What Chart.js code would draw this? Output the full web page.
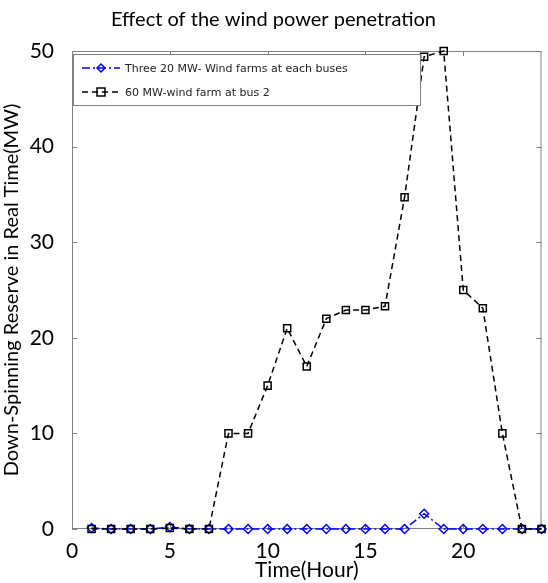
<!DOCTYPE html>
<html>
<head>
<meta charset="utf-8">
<script src="https://cdn.jsdelivr.net/npm/chart.js@4.4.0/dist/chart.umd.min.js"></script>
<style>
  body { margin: 0; background: #fff; }
  #box { width: 548px; height: 583px; }
</style>
</head>
<body>
<div id="box"><canvas id="myChart"></canvas></div>
<script>
// dados
const horas = [1,2,3,4,5,6,7,8,9,10,11,12,13,14,15,16,17,18,19,20,21,22,23,24];
const tresParques = [0.1,0,0,0,0.2,0,0,0,0,0,0,0,0,0,0,0,0,1.6,0,0,0,0,0,0];
const parque60 = [0,0,0,0,0.1,0,0,10,10,15,21,17,22,22.9,22.9,23.3,34.7,49.4,50,25,23.1,10,0,0];
const ticksX = [0,5,10,15,20];
const ticksY = [0,10,20,30,40,50];

const ctx = document.querySelector("#myChart");

// caixa do gráfico, ticks para dentro e legenda dentro da área
const moldura = {
  id: 'moldura',
  beforeDatasetsDraw(chart) {
    const c = chart.ctx, a = chart.chartArea;
    const sx = chart.scales.x, sy = chart.scales.y;
    c.save();
    c.strokeStyle = '#808080';
    c.lineWidth = 1;
    c.strokeRect(a.left + 0.5, a.top + 0.5, a.right - a.left - 1, a.bottom - a.top - 1);
    c.beginPath();
    ticksX.forEach(v => {
      const x = Math.round(sx.getPixelForValue(v)) + 0.5;
      c.moveTo(x, a.bottom); c.lineTo(x, a.bottom - 5);
      c.moveTo(x, a.top); c.lineTo(x, a.top + 5);
    });
    ticksY.forEach(v => {
      const y = Math.round(sy.getPixelForValue(v)) + 0.5;
      c.moveTo(a.left, y); c.lineTo(a.left + 5, y);
      c.moveTo(a.right, y); c.lineTo(a.right - 5, y);
    });
    c.stroke();
    c.restore();
  },
  afterDraw(chart) {
    const c = chart.ctx, a = chart.chartArea;
    const x0 = a.left + 1, y0 = a.top + 3, w = 347, h = 51;
    c.save();
    c.fillStyle = '#fff';
    c.fillRect(x0, y0, w, h);
    c.strokeStyle = '#808080';
    c.lineWidth = 1;
    c.strokeRect(x0 + 0.5, y0 + 0.5, w, h);
    c.font = '11px "DejaVu Sans"';
    c.textBaseline = 'middle';
    chart.data.datasets.forEach((ds, i) => {
      const y = y0 + 14 + i * 24;
      c.strokeStyle = ds.borderColor;
      c.lineWidth = ds.borderWidth;
      c.setLineDash(ds.borderDash);
      c.beginPath(); c.moveTo(x0 + 9, y); c.lineTo(x0 + 47, y); c.stroke();
      c.setLineDash([]);
      c.lineWidth = 1.5;
      c.beginPath();
      const mx = x0 + 28;
      if (ds.pointStyle === 'rectRot') {
        c.moveTo(mx, y - 4); c.lineTo(mx + 4, y); c.lineTo(mx, y + 4); c.lineTo(mx - 4, y); c.closePath();
      } else {
        c.rect(mx - 4, y - 4, 8, 8);
      }
      c.stroke();
      c.fillStyle = '#222';
      c.fillText(ds.label, x0 + 52, y + 1);
    });
    c.restore();
  }
};

new Chart(ctx, {
  type: 'line',
  data: {
    labels: horas,
    datasets: [{
      label: 'Three 20 MW- Wind farms at each buses',
      data: tresParques,
      borderColor: '#0000ff',
      backgroundColor: 'transparent',
      borderWidth: 1.5,
      borderDash: [8, 3, 2, 3],
      pointStyle: 'rectRot',
      pointRadius: 4.5,
      pointBorderWidth: 1.5,
      pointBorderColor: '#0000ff',
      pointBackgroundColor: 'transparent',
      order: 2
    }, {
      label: '60 MW-wind farm at bus 2',
      data: parque60,
      borderColor: '#000000',
      backgroundColor: 'transparent',
      borderWidth: 1.5,
      borderDash: [6, 4],
      pointStyle: 'rect',
      pointRadius: 5,
      pointBorderWidth: 1.5,
      pointBorderColor: '#000000',
      pointBackgroundColor: 'transparent',
      order: 1
    }]
  },
  options: {
    responsive: true,
    maintainAspectRatio: false,
    animation: false,
    clip: false,
    layout: { padding: { left: 0, right: 1, top: 0, bottom: 0 } },
    parsing: { xAxisKey: undefined },
    plugins: {
      legend: { display: false },
      tooltip: { enabled: false },
      title: {
        display: true,
        text: 'Effect of the wind power penetration',
        color: '#000',
        font: { family: 'Lato', size: 20, weight: 'normal' },
        padding: { top: 8, bottom: 19 }
      }
    },
    scales: {
      x: {
        type: 'linear',
        min: 0,
        max: 24,
        grid: { display: false },
        border: { display: false },
        ticks: { stepSize: 5, color: '#000', padding: 2, font: { family: 'Lato', size: 21 } },
        afterBuildTicks: s => { s.ticks = ticksX.map(v => ({ value: v })); },
        afterFit: s => { s.height = 54; },
        title: {
          display: true,
          text: 'Time(Hour)',
          color: '#000',
          font: { family: 'Lato', size: 21 },
          padding: { top: -6, bottom: 0 }
        }
      },
      y: {
        min: 0,
        max: 50,
        grid: { display: false },
        border: { display: false },
        ticks: { stepSize: 10, color: '#000', padding: 10, font: { family: 'Lato', size: 21 } },
        afterBuildTicks: s => { s.ticks = ticksY.map(v => ({ value: v })); },
        afterFit: s => { s.width = 72; },
        title: {
          display: true,
          text: 'Down-Spinning Reserve in Real Time(MW)',
          color: '#000',
          font: { family: 'Lato', size: 20 },
          padding: { top: 0, bottom: 0 }
        }
      }
    }
  },
  plugins: [moldura]
});
</script>
</body>
</html>
